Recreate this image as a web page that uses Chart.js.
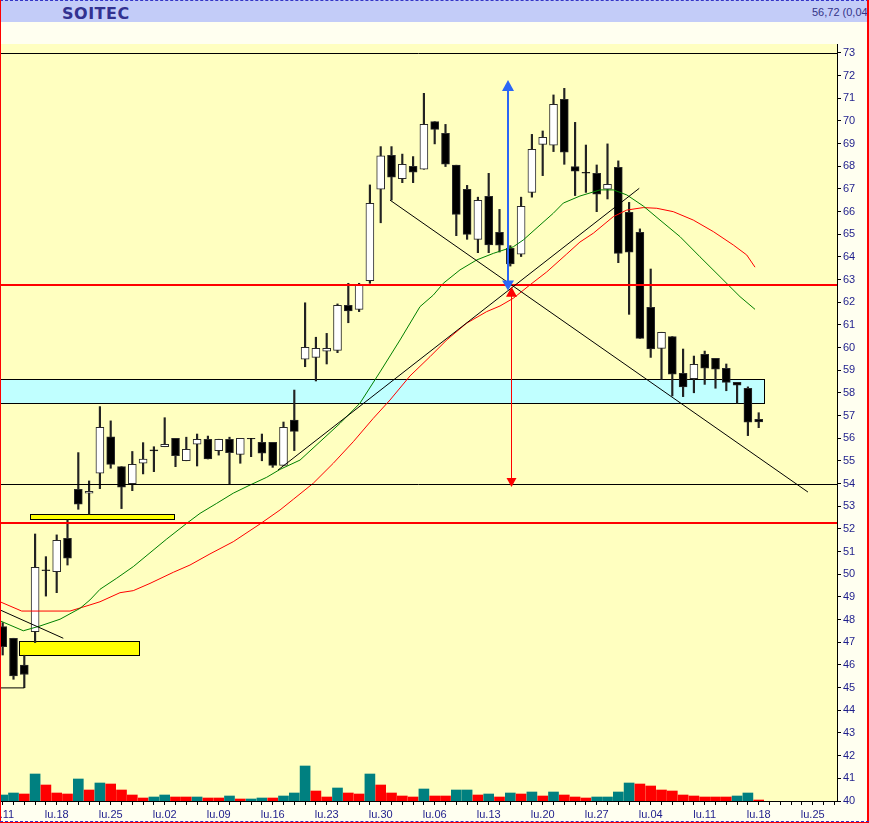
<!DOCTYPE html>
<html>
<head>
<meta charset="utf-8">
<script src="https://cdn.jsdelivr.net/npm/chart.js@4.4.1/dist/chart.umd.min.js"></script>
<style>
html,body{margin:0;padding:0;background:#FFFFF0;}
#wrap{position:relative;width:869px;height:823px;overflow:hidden;background:#FFFFF0;}
#hdr{position:absolute;left:0;top:0;width:869px;height:22px;background:#C3CCF8;border-top:1px dashed #3535C8;box-sizing:border-box;overflow:hidden;}
#title{position:absolute;left:62px;top:3px;font:bold 16px "DejaVu Sans";letter-spacing:0.5px;color:#323290;white-space:nowrap;}
#quote{position:absolute;left:812px;top:5px;font:11px "Liberation Sans";color:#333388;white-space:nowrap;}
#cv{position:absolute;left:0;top:22px;}
.ln{position:absolute;}
</style>
</head>
<body>
<div id="wrap">
  <div id="hdr"><span id="title">SOITEC</span><span id="quote">56,72 (0,04%)</span></div>
  <canvas id="cv" width="867" height="799"></canvas>
  <div class="ln" style="left:0;top:0;width:1px;height:823px;background:#FF0000;"></div>
  <div class="ln" style="left:867px;top:0;width:2px;height:823px;background:#FF0000;"></div>
  <div class="ln" style="left:0;top:821px;width:869px;height:0;border-top:1px dashed #3535C8;"></div>
  <div class="ln" style="left:0;top:822px;width:869px;height:1px;background:#FF0000;"></div>
</div>
<script>
// ---- data (day index 0 = Monday "lu.11") ----
const weekLabels = ['lu.11','lu.18','lu.25','lu.02','lu.09','lu.16','lu.23','lu.30','lu.06','lu.13','lu.20','lu.27','lu.04','lu.11','lu.18','lu.25'];

const opens = [47.69,47.18,46.00,47.47,50.20,50.12,51.59,53.75,53.58,54.46,
56.07,54.75,54.00,54.90,55.49,55.63,56.00,55.01,55.74,55.96,
55.46,55.96,55.29,56.00,55.82,55.82,54.81,56.80,59.49,59.57,
59.85,59.88,61.87,61.69,62.96,66.99,68.49,67.46,68.00,67.87,
69.97,69.46,68.05,66.99,64.78,66.68,65.09,64.38,64.12,66.85,
68.97,68.93,70.96,67.99,67.74,67.69,66.99,67.96,65.97,65.09,
61.78,59.97,60.49,58.87,58.63,59.71,59.53,59.09,58.47,58.21,
56.84];
const highs = [47.87,47.18,46.43,51.78,50.78,51.74,52.40,55.37,54.12,57.40,
56.77,54.75,55.42,55.81,55.63,56.91,56.00,56.05,56.19,56.10,
55.96,56.05,56.00,56.00,56.19,55.82,56.72,58.13,61.98,60.46,
60.63,61.93,62.84,62.84,67.18,68.87,68.87,68.54,68.43,71.22,
69.97,69.85,68.05,67.16,66.64,67.69,66.10,64.50,66.64,69.41,
69.56,71.15,71.44,69.94,68.94,68.06,68.99,68.24,66.41,65.24,
63.47,60.68,60.49,59.94,59.63,59.85,59.53,59.28,58.47,58.27,
57.13];
const lows = [46.44,45.37,45.00,46.99,49.04,49.19,50.41,52.87,52.65,53.78,
54.68,52.90,53.69,54.43,54.53,55.63,54.75,55.01,54.78,55.09,
55.26,53.97,54.90,55.19,55.01,54.72,54.81,55.46,59.16,58.53,
59.28,59.78,61.10,61.59,62.84,65.51,66.51,67.28,67.28,67.87,
68.99,67.99,64.94,64.78,64.19,64.19,64.22,63.60,64.02,66.64,
67.59,68.65,68.09,66.71,66.85,66.00,66.56,63.75,61.47,60.41,
59.57,58.60,57.87,57.84,58.01,58.38,58.21,58.10,57.55,56.12,
56.47];
const closes = [46.81,45.52,45.58,50.31,50.16,51.50,50.71,53.09,53.66,56.49,
54.85,53.84,54.85,55.08,55.45,55.74,55.24,55.52,55.96,55.09,
55.96,55.37,56.00,55.97,55.34,54.81,56.49,56.31,60.02,59.97,
59.97,61.87,61.62,62.75,66.37,68.46,67.52,68.09,67.74,69.85,
69.63,68.09,65.88,65.00,66.50,64.53,64.52,63.69,66.24,68.75,
69.28,70.74,68.62,67.79,67.70,66.77,67.21,64.16,64.21,60.41,
59.94,60.68,58.83,58.27,59.27,59.09,59.05,58.47,58.35,56.71,
56.72];

const volumes = [6,8,7,27,16,8,7,22,11,18,
17,11,6,3,4,6,4,4,4,3,
3,5,2,2,3,3,5,8,35,10,
4,13,8,7,27,16,8,5,4,12,
5,5,11,11,6,7,4,8,7,9,
5,9,6,4,3,4,4,9,18,17,
15,11,10,6,5,4,4,4,5,8,
1];
const volumeUp = [1,1,0,1,0,0,0,1,0,1,
0,0,0,0,1,1,0,0,1,0,
0,1,0,1,1,0,1,1,1,0,
0,1,0,0,1,0,0,0,0,1,
0,0,1,1,0,1,0,1,0,1,
0,1,0,0,0,1,1,1,1,0,
0,0,0,0,0,0,0,0,1,1,
0];

const maGreenDays = [-0.25,1.91,3.45,5.31,7.16,8.08,9.01,10.56,12.09,13.64,15.19,17.04,18.27,19.81,21.35,22.90,24.44,25.68,27.53,29.38,31.23,33.08,34.94,36.79,38.64,39.87,40.80,42.34,43.89,45.43,47.28,48.20,49.75,50.98,51.91,53.45,55.31,56.54,57.78,59.31,60.86,62.71,64.56,66.42,68.27,69.66];
const maGreenValues = [47.95,47.51,47.72,48.02,48.50,48.87,49.34,49.83,50.34,50.95,51.56,52.25,52.69,53.13,53.58,53.94,54.28,54.63,55.04,55.85,56.66,57.55,58.93,60.34,61.81,62.32,62.84,63.43,63.87,64.16,64.45,64.75,65.41,65.93,66.38,66.69,66.96,66.96,66.74,66.25,65.63,64.90,64.01,63.13,62.25,61.69];
const maRedDays = [-0.25,1.76,6.23,8.08,9.01,10.86,12.09,13.64,15.80,17.34,19.19,21.35,23.82,25.68,26.91,28.76,30.61,32.46,34.31,35.86,37.71,39.56,41.11,42.96,44.81,46.05,47.28,48.82,50.37,52.22,53.45,54.69,56.54,57.78,59.31,60.56,62.09,63.94,65.80,67.65,68.89,69.66];
const maRedValues = [48.79,48.38,48.38,48.65,48.79,49.19,49.28,49.60,50.09,50.41,50.90,51.44,52.22,52.84,53.31,54.02,54.90,55.85,56.88,57.69,58.75,59.60,60.34,61.08,61.59,61.84,62.18,62.77,63.34,64.13,64.66,65.05,65.78,66.07,66.18,66.15,66.00,65.63,65.12,64.53,64.09,63.55];

// drawings in (day, price) units
const levelsBlack = [73, 54];
const levelsRed = [62.77, 52.27];
const cyanZone = [-0.5, 70.5, 57.55, 58.6];
const yellowZones = [[1.54, 12.65, 46.43, 47.05], [2.53, 15.9, 52.43, 52.65]];
const trendLines = [[-0.25, 48.43, 5.61, 47.18], [35.86, 66.51, 74.56, 53.63], [25.49, 54.60, 58.94, 67.03], [-0.25, 44.99, 2.0, 44.99]];
const blueArrow = [46.8, 62.52, 71.81];
const redArrow = [47.04, 62.69, 53.85];

// ---- chart ----
const days = opens.map((_, i) => i);

const overlay = {
  id: 'overlay',
  beforeDraw(chart) {
    const {ctx, chartArea: a} = chart;
    ctx.save();
    ctx.fillStyle = '#FFFFC0';
    ctx.fillRect(a.left, a.top, a.right - a.left, a.bottom - a.top);
    ctx.restore();
  },
  beforeDatasetsDraw(chart) {
    const {ctx, chartArea: a, scales: {x, y}} = chart;
    ctx.save();
    ctx.beginPath(); ctx.rect(a.left, a.top, a.right - a.left, a.bottom - a.top); ctx.clip();
    const zone = (z, fill) => {
      const x0 = Math.round(x.getPixelForValue(z[0])), x1 = Math.round(x.getPixelForValue(z[1]));
      const y0 = Math.round(y.getPixelForValue(z[3])), y1 = Math.round(y.getPixelForValue(z[2]));
      ctx.fillStyle = fill;
      ctx.fillRect(x0, y0, x1 - x0, y1 - y0);
      ctx.strokeStyle = '#000'; ctx.lineWidth = 1;
      ctx.strokeRect(x0 + 0.5, y0 + 0.5, x1 - x0, y1 - y0);
    };
    zone(cyanZone, '#C0FFFF');
    yellowZones.forEach(z => zone(z, '#FFFF00'));
    ctx.restore();
  },
  afterDatasetsDraw(chart) {
    const {ctx, chartArea: a, scales: {x, y}} = chart;
    ctx.save();
    ctx.beginPath(); ctx.rect(a.left, a.top, a.right - a.left, a.bottom - a.top); ctx.clip();
    // horizontal levels
    levelsBlack.forEach(v => {
      const py = Math.round(y.getPixelForValue(v)) + 0.5;
      ctx.strokeStyle = '#000'; ctx.lineWidth = 1;
      ctx.beginPath(); ctx.moveTo(a.left, py); ctx.lineTo(a.right, py); ctx.stroke();
    });
    levelsRed.forEach(v => {
      const py = Math.round(y.getPixelForValue(v));
      ctx.strokeStyle = '#FF0000'; ctx.lineWidth = 2;
      ctx.beginPath(); ctx.moveTo(a.left, py); ctx.lineTo(a.right, py); ctx.stroke();
    });
    // trend lines
    ctx.strokeStyle = '#000'; ctx.lineWidth = 1;
    trendLines.forEach(t => {
      ctx.beginPath();
      ctx.moveTo(x.getPixelForValue(t[0]), y.getPixelForValue(t[1]));
      ctx.lineTo(x.getPixelForValue(t[2]), y.getPixelForValue(t[3]));
      ctx.stroke();
    });
    const head = (px, tip, dir, half, len) => {
      ctx.beginPath();
      ctx.moveTo(px, tip);
      ctx.lineTo(px - half, tip - dir * len);
      ctx.lineTo(px + half, tip - dir * len);
      ctx.closePath(); ctx.fill();
    };
    // blue arrow
    {
      const px = Math.round(x.getPixelForValue(blueArrow[0]));
      const yb = y.getPixelForValue(blueArrow[1]), yt = y.getPixelForValue(blueArrow[2]);
      ctx.strokeStyle = '#2B66F5'; ctx.fillStyle = '#2B66F5'; ctx.lineWidth = 2;
      ctx.beginPath(); ctx.moveTo(px, yt + 6); ctx.lineTo(px, yb - 6); ctx.stroke();
      head(px, yt, -1, 6, 11);
      head(px, yb, 1, 6, 10);
    }
    // red arrow
    {
      const px = Math.round(x.getPixelForValue(redArrow[0])) + 0.5;
      const yt = y.getPixelForValue(redArrow[1]), yb = y.getPixelForValue(redArrow[2]);
      ctx.strokeStyle = '#FF0000'; ctx.fillStyle = '#FF0000'; ctx.lineWidth = 1;
      ctx.beginPath(); ctx.moveTo(px, yt + 6); ctx.lineTo(px, yb - 6); ctx.stroke();
      head(px, yt, -1, 5.5, 10);
      head(px, yb, 1, 5, 9);
    }
    ctx.restore();
  }
};

const axisFont = {family: 'Liberation Sans', size: 11};
const axisColor = '#1E1E8C';

new Chart(document.getElementById('cv'), {
  type: 'bar',
  data: {
    datasets: [
      {
        type: 'line', label: 'MA court', order: 0, yAxisID: 'y',
        data: maGreenDays.map((d, k) => ({x: d, y: maGreenValues[k]})),
        borderColor: '#008000', borderWidth: 1, pointRadius: 0, tension: 0, fill: false
      },
      {
        type: 'line', label: 'MA long', order: 1, yAxisID: 'y',
        data: maRedDays.map((d, k) => ({x: d, y: maRedValues[k]})),
        borderColor: '#FF0000', borderWidth: 1, pointRadius: 0, tension: 0, fill: false
      },
      {
        type: 'bar', label: 'Corps', order: 2, yAxisID: 'y', grouped: false,
        data: days.map(i => ({x: i, y: [opens[i], closes[i]]})),
        backgroundColor: days.map(i => closes[i] >= opens[i] ? '#FFFFFF' : '#000000'),
        borderColor: '#2A2A2A', borderWidth: 1, borderSkipped: false, barThickness: 8
      },
      {
        type: 'bar', label: 'Mèches', order: 3, yAxisID: 'y', grouped: false,
        data: days.map(i => ({x: i, y: [lows[i], highs[i]]})),
        backgroundColor: '#222222', borderWidth: 0, barThickness: 1.5
      },
      {
        type: 'bar', label: 'Volume', order: 4, yAxisID: 'yv', grouped: false,
        data: days.map(i => ({x: i, y: volumes[i]})),
        backgroundColor: days.map(i => volumeUp[i] ? '#008080' : '#FF0000'),
        borderWidth: 0, barThickness: 10
      }
    ]
  },
  options: {
    responsive: false,
    animation: false,
    events: [],
    layout: {padding: {top: 22, left: 0, right: 0, bottom: 0}, autoPadding: false},
    plugins: {legend: {display: false}, tooltip: {enabled: false}, title: {display: false}},
    scales: {
      x: {
        type: 'linear', min: -0.25, max: 77.25, offset: false,
        grid: {display: true, drawOnChartArea: false, drawTicks: true, tickLength: 4, color: '#000', tickColor: '#000', offset: false},
        border: {display: true, color: '#000', width: 1},
        ticks: {
          stepSize: 1, autoSkip: false, maxRotation: 0, minRotation: 0, includeBounds: false,
          padding: 3, color: axisColor, font: axisFont,
          callback: v => (Math.round(v) % 5 === 0 ? weekLabels[Math.round(v) / 5] : '')
        },
        afterFit: s => { s.height = 20; s.paddingLeft = 0; s.paddingRight = 0; }
      },
      y: {
        type: 'linear', position: 'right', min: 40, max: 73.397,
        grid: {display: true, drawOnChartArea: false, drawTicks: true, tickLength: 4, color: '#000', tickColor: '#000'},
        border: {display: true, color: '#000', width: 1},
        ticks: {stepSize: 1, includeBounds: false, autoSkip: false, padding: 2, color: axisColor, font: axisFont},
        afterFit: s => { s.width = 30; s.paddingTop = 0; s.paddingBottom = 0; }
      },
      yv: {display: false, min: 0, max: 757}
    }
  },
  plugins: [overlay]
});
</script>
</body>
</html>
